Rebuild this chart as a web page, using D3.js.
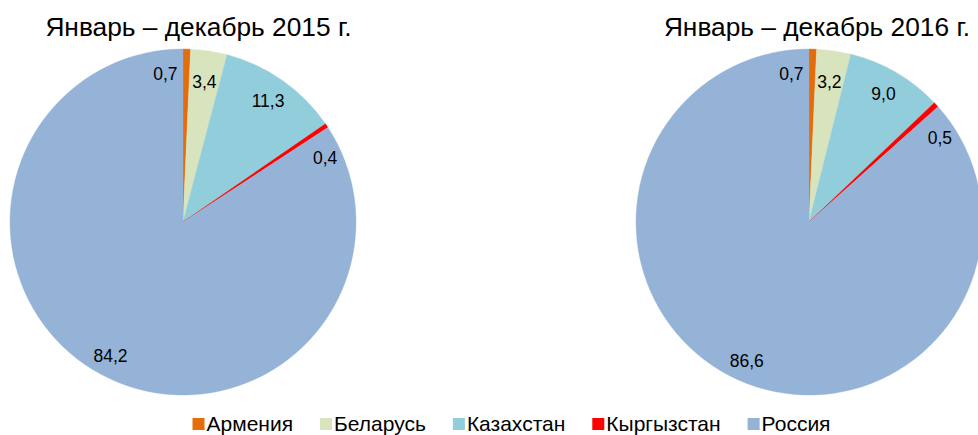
<!DOCTYPE html>
<html><head><meta charset="utf-8">
<script src="https://cdn.jsdelivr.net/npm/d3@7"></script>
<style>body{margin:0;background:#fff}svg{display:block}text{font-family:"Liberation Sans",Arial,sans-serif;fill:#000}</style>
</head><body><svg id="c" width="978" height="435"></svg>
<script>
const categories = ["Армения","Беларусь","Казахстан","Кыргызстан","Россия"];
const colors = ["#E46C0A","#D7E4BD","#92CDDC","#FF0000","#95B3D7"];
const titles = ["Январь – декабрь 2015 г.","Январь – декабрь 2016 г."];
const values2015 = [0.7,3.4,11.3,0.4,84.2];
const values2016 = [0.7,3.2,9.0,0.5,86.6];
const series = [values2015, values2016];

const svg = d3.select("#c");
const R = 173;
const centers = [[183,222],[809,222]];
const titleX = [198.5,817];
const fmt = v => d3.format(".1f")(v).replace(".", ",");
const deg = Math.PI/180;

const pie = d3.pie().sort(null).value(d => d);
const arc = d3.arc().innerRadius(0).outerRadius(R);

series.forEach((vals, k) => {
  const g = svg.append("g").attr("transform", `translate(${centers[k][0]},${centers[k][1]})`);
  const arcs = pie(vals);
  g.selectAll("path").data(arcs).join("path")
    .attr("d", arc)
    .attr("fill", (d,i) => colors[i])
    .attr("stroke", (d,i) => colors[i]).attr("stroke-width", 0.4);
  g.selectAll("text.lbl").data(arcs).join("text")
    .attr("class","lbl")
    .attr("font-size", 17.5)
    .attr("text-anchor","middle")
    .attr("dy","0.35em")
    .attr("transform", (d,i) => {
      let a, r;
      if (d.data < 1) {
        if (i === 0) { a = d.startAngle - 6.8*deg; r = R*0.86; }
        else { a = d.endAngle + 9*deg; r = R*0.9; }
      } else {
        a = (d.startAngle + d.endAngle)/2;
        r = R*(i === 1 ? 0.82 : (i === categories.length-1 ? 0.88 : 0.855));
      }
      return `translate(${r*Math.sin(a)},${-r*Math.cos(a)})`;
    })
    .text(d => fmt(d.data));
  svg.append("text").attr("x", titleX[k]).attr("y", 36)
    .attr("text-anchor","middle").attr("font-size", 26.3).text(titles[k]);
});

// legend
const leg = svg.append("g");
let x = 0;
categories.forEach((c,i) => {
  const it = leg.append("g");
  it.append("rect").attr("x", 0).attr("y", -13).attr("width", 12).attr("height", 12).attr("fill", colors[i]);
  const t = it.append("text").attr("x", 14).attr("y", 0).attr("font-size", 21).text(c);
  const w = t.node().getComputedTextLength();
  it.attr("transform", `translate(${x},0)`);
  x += 14 + w + 27;
});
const total = x - 27;
leg.attr("transform", `translate(${511.5 - total/2},431)`);
</script></body></html>
